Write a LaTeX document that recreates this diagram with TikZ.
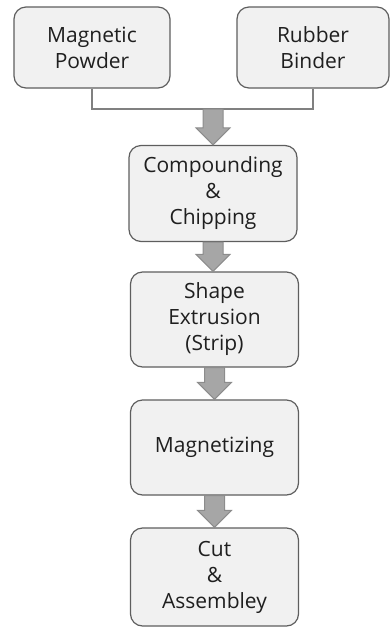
\documentclass[tikz,border=0pt]{standalone}
\usepackage{fontspec}
\setmainfont{Open Sans}
\usetikzlibrary{calc}

\definecolor{boxfill}{HTML}{F1F1F1}
\definecolor{boxline}{HTML}{5E5E5E}
\definecolor{arrfill}{HTML}{A6A6A6}
\definecolor{arrline}{HTML}{8C8C8C}
\definecolor{joinclr}{HTML}{808080}

\newcommand{\flowstep}[2]{%
  \path[flowarrow] let \p1=(#1), \p2=(#2) in
    (\x1-5pt,\y1) -- (\x1+5pt,\y1) -- (\x1+5pt,\y2+8.5pt) -- (\x1+8.5pt,\y2+8.5pt)
    -- (\x1,\y2) -- (\x1-8.5pt,\y2+8.5pt) -- (\x1-5pt,\y2+8.5pt) -- cycle;}

\begin{document}
\begin{tikzpicture}[x=0.5pt, y=-0.5pt,
  stepbox/.style={draw=boxline, fill=boxfill, line width=0.6pt, rounded corners=6pt,
    align=center, inner sep=0pt, minimum width=84pt, minimum height=48pt,
    font=\fontsize{10.5}{13}\selectfont, text=black!88},
  flowarrow/.style={fill=arrfill, draw=arrline, line width=0.5pt},
  joinline/.style={draw=joinclr, line width=1pt}]
\useasboundingbox (0,0) rectangle (390,628);
\node[stepbox, minimum width=78pt, minimum height=40.5pt] (powder) at (92,47.5) {Magnetic\\Powder};
\node[stepbox, minimum width=76pt, minimum height=40.5pt] (binder) at (313,47.5) {Rubber\\Binder};
\node[stepbox] (comp) at (213,193.5) {Compounding\\\&\\Chipping};
\node[stepbox, minimum height=47.5pt] (extr) at (214.5,319.5) {Shape\\Extrusion\\(Strip)};
\node[stepbox, minimum height=47.5pt] (magn) at (214.5,447.5) {Magnetizing};
\node[stepbox, minimum height=49pt] (cut) at (214.5,577) {Cut\\\&\\Assembley};
\coordinate (join) at (213,109);
\draw[joinline] (powder.south) |- (join) -| (binder.south);
\flowstep{join}{comp.north}
\flowstep{comp.south}{extr.north}
\flowstep{extr.south}{magn.north}
\flowstep{magn.south}{cut.north}
\end{tikzpicture}
\end{document}
